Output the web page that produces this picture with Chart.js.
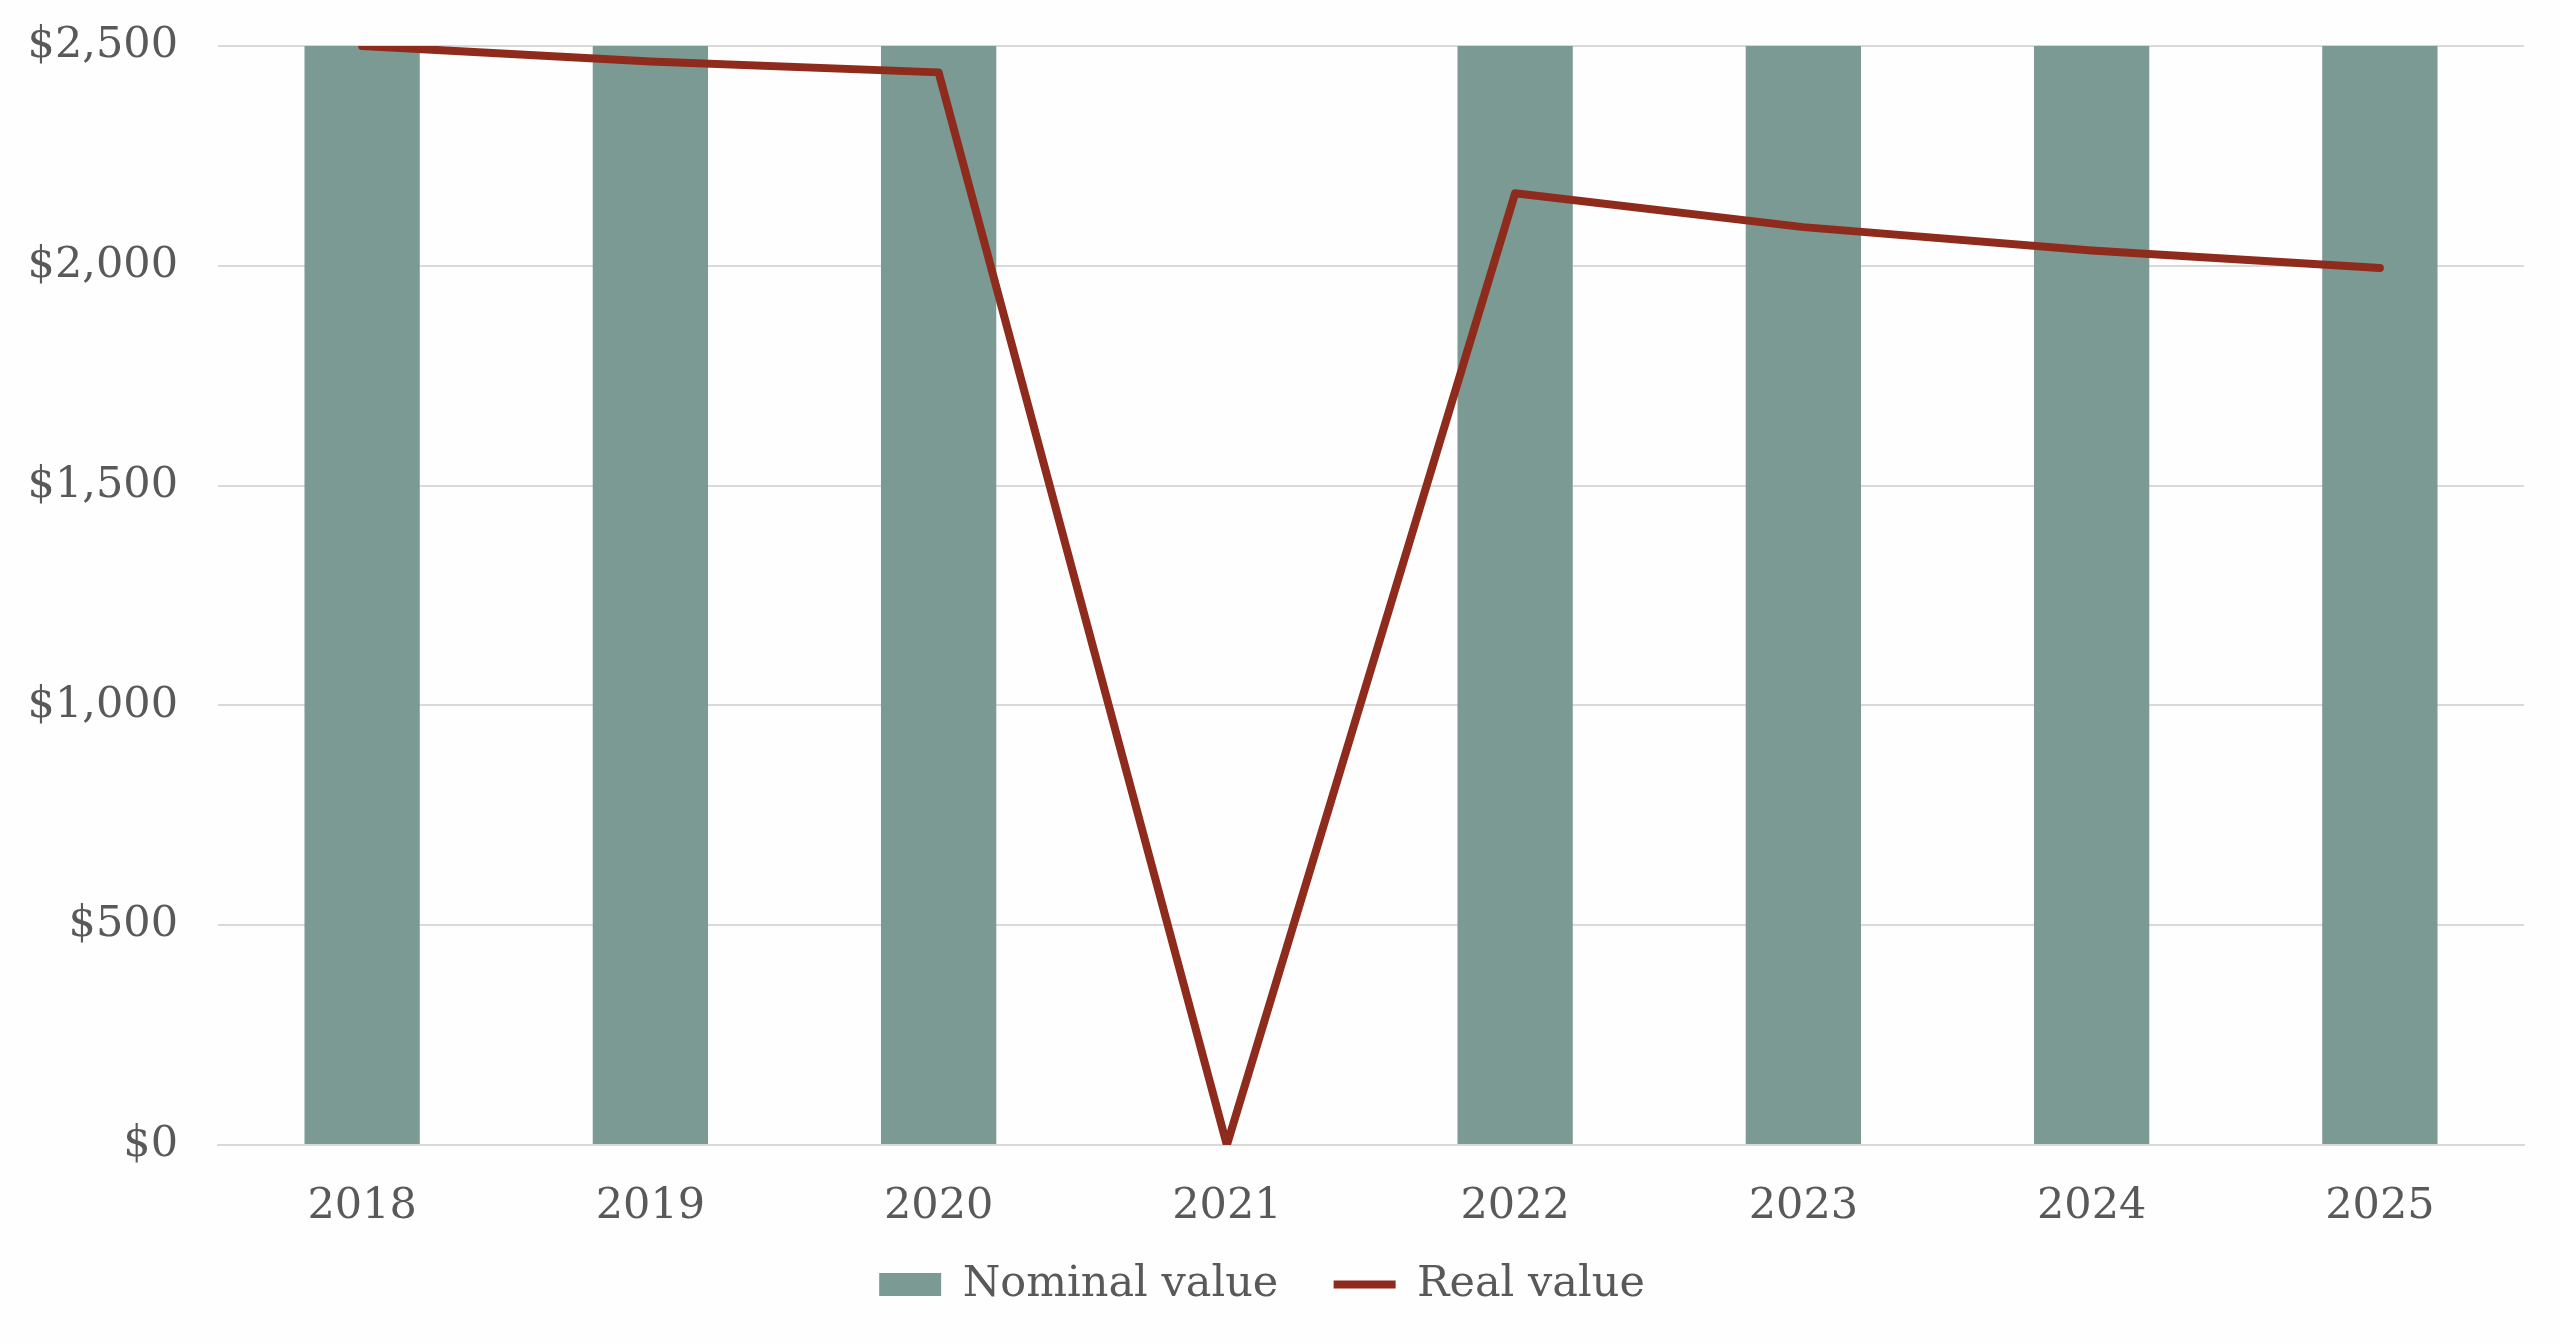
<!DOCTYPE html>
<html>
<head>
<meta charset="utf-8">
<script src="https://cdn.jsdelivr.net/npm/chart.js@4.4.1/dist/chart.umd.min.js"></script>
<style>
  html, body { margin: 0; padding: 0; background: #fefefe; }
  #wrap { width: 2560px; height: 1343px; }
</style>
</head>
<body>
<div id="wrap"><canvas id="chart"></canvas></div>
<script>
// --- data ---
const years = ['2018', '2019', '2020', '2021', '2022', '2023', '2024', '2025'];
const nominalValue = [2500, 2500, 2500, 0, 2500, 2500, 2500, 2500];
const realValue = [2500, 2465, 2440, 0, 2165, 2088, 2035, 1995];
const yTicks = [0, 500, 1000, 1500, 2000, 2500];

const textColor = '#595959';
const gridColor = '#d9d9d9';
const fontFamily = "Georgia, 'DejaVu Serif', serif";

const chart = new Chart(document.getElementById('chart'), {
    type: 'bar',
    data: {
        labels: years,
        datasets: [
            {
                type: 'line',
                label: 'Real value',
                data: realValue,
                borderColor: '#8e2b1c',
                backgroundColor: '#8e2b1c',
                borderWidth: 8,
                borderCapStyle: 'round',
                borderJoinStyle: 'round',
                pointRadius: 0,
                pointStyle: 'line',
                tension: 0,
                order: 0
            },
            {
                label: 'Nominal value',
                data: nominalValue,
                backgroundColor: '#7b9a94',
                pointStyle: 'rect',
                categoryPercentage: 1,
                barPercentage: 0.4,
                order: 1
            }
        ]
    },
    options: {
        responsive: true,
        maintainAspectRatio: false,
        animation: false,
        layout: { padding: { top: 46, right: 36, left: 0, bottom: 27 } },
        font: { family: fontFamily },
        scales: {
            x: {
                // default fit adds the tick padding twice, keep only the top one
                afterFit: (axis) => { axis.height = 90; },
                grid: { display: false, drawTicks: false },
                border: { display: true, color: gridColor, width: 2 },
                ticks: { color: textColor, padding: 36, font: { family: fontFamily, size: 43 } }
            },
            y: {
                min: 0,
                max: 2500,
                afterBuildTicks: (axis) => { axis.ticks = yTicks.map(v => ({ value: v })); },
                afterFit: (axis) => { axis.width = 218; },
                // transparent tick marks just push the labels away from the plot
                grid: { color: gridColor, lineWidth: 2, drawTicks: true, tickLength: 37, tickColor: 'rgba(0,0,0,0)' },
                border: { display: false },
                ticks: {
                    color: textColor,
                    padding: 3,
                    font: { family: fontFamily, size: 43 },
                    callback: (v) => '$' + v.toLocaleString('en-US')
                }
            }
        },
        plugins: {
            legend: {
                position: 'bottom',
                reverse: true,
                labels: {
                    usePointStyle: true,
                    boxHeight: 23,
                    pointStyleWidth: 62,
                    color: textColor,
                    padding: 28,
                    font: { family: fontFamily, size: 43 },
                    // wider gap after the first entry
                    generateLabels: (c) => Chart.defaults.plugins.legend.labels.generateLabels(c).map(item => {
                        if (item.datasetIndex === 1) item.text += '  ';
                        return item;
                    })
                }
            },
            tooltip: { enabled: false }
        }
    }
});
</script>
</body>
</html>
